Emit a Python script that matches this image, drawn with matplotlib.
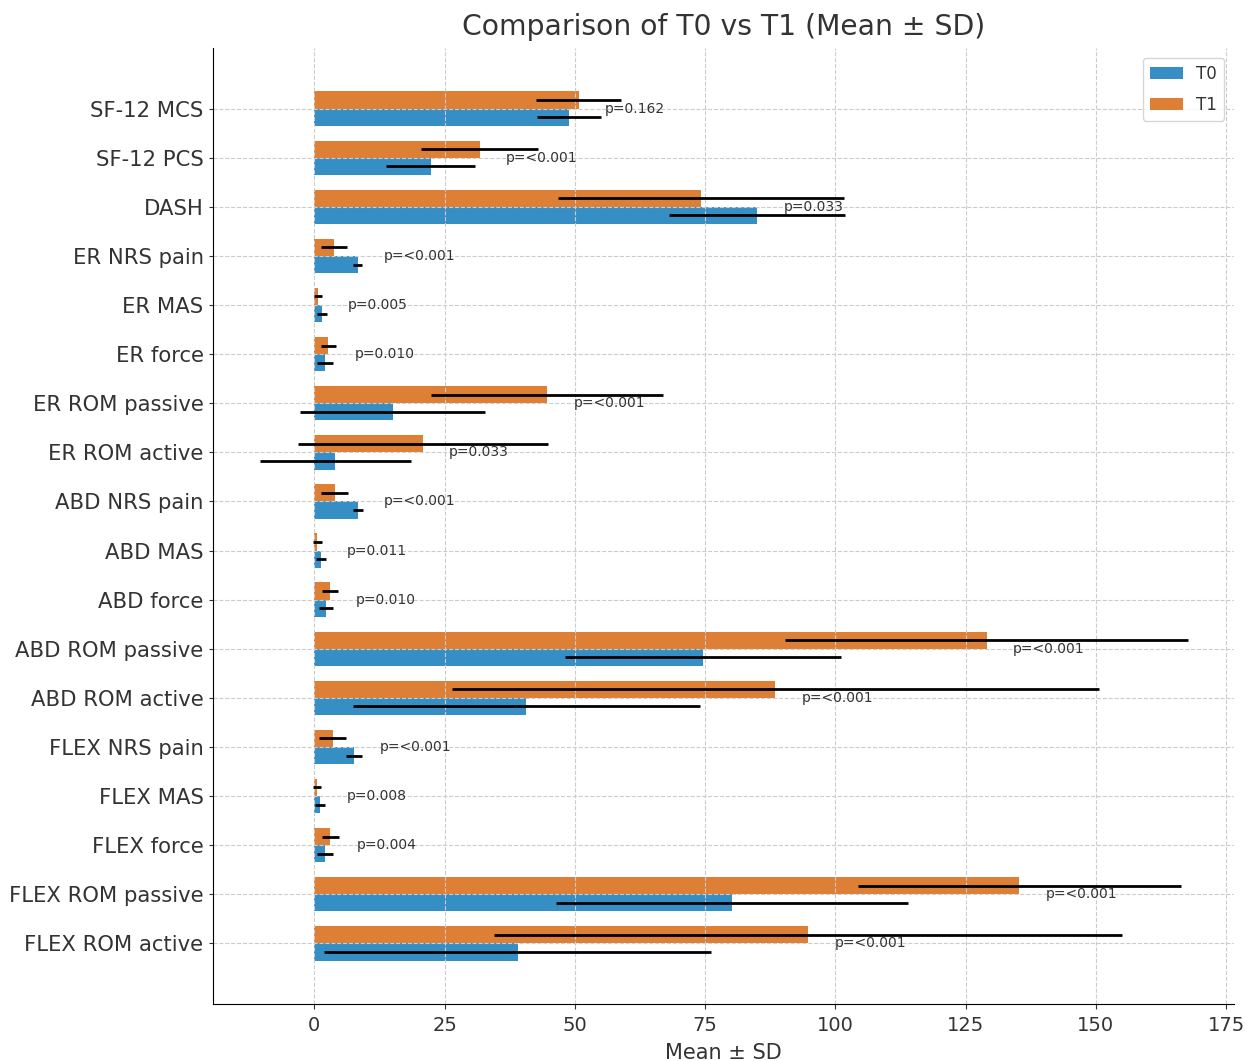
import numpy as np
import matplotlib
matplotlib.use("Agg")
import matplotlib.pyplot as plt

labels = ['SF-12 MCS', 'SF-12 PCS', 'DASH', 'ER NRS pain', 'ER MAS', 'ER force',
          'ER ROM passive', 'ER ROM active', 'ABD NRS pain', 'ABD MAS', 'ABD force',
          'ABD ROM passive', 'ABD ROM active', 'FLEX NRS pain', 'FLEX MAS',
          'FLEX force', 'FLEX ROM passive', 'FLEX ROM active']
t0_mean = [48.9, 22.3, 85.0, 8.3, 1.5, 2.1, 15.0, 4.0, 8.3, 1.25, 2.2, 74.6, 40.7, 7.6, 1.15, 2.05, 80.1, 39.0]
t0_sd = [6.1, 8.5, 16.9, 0.8, 1.0, 1.5, 17.7, 14.5, 0.95, 0.95, 1.4, 26.4, 33.3, 1.45, 0.95, 1.45, 33.8, 37.2]
t1_mean = [50.7, 31.7, 74.2, 3.8, 0.7, 2.7, 44.7, 20.8, 3.9, 0.6, 3.0, 129.0, 88.5, 3.5, 0.5, 3.05, 135.3, 94.8]
t1_sd = [8.2, 11.3, 27.5, 2.45, 0.8, 1.5, 22.3, 24.0, 2.6, 0.8, 1.6, 38.6, 62.0, 2.55, 0.77, 1.65, 31.0, 60.3]
p_values = ['0.162', '<0.001', '0.033', '<0.001', '0.005', '0.010', '<0.001', '0.033', '<0.001',
            '0.011', '0.010', '<0.001', '<0.001', '<0.001', '0.008', '0.004', '<0.001', '<0.001']

text_col = '#333333'
plt.rcParams['text.color'] = text_col
plt.rcParams['axes.labelcolor'] = text_col
plt.rcParams['xtick.color'] = text_col
plt.rcParams['ytick.color'] = text_col

y = np.arange(len(labels))
w = 0.35

fig = plt.figure(figsize=(12.47, 10.61), dpi=100)
ax = fig.add_axes([0.171, 0.0537, 0.8186, 0.9011])

ax.barh(y + w / 2, t0_mean, w, xerr=t0_sd, color='#358EC4', label='T0',
        error_kw=dict(ecolor='black', elinewidth=2, capsize=0))
ax.barh(y - w / 2, t1_mean, w, xerr=t1_sd, color='#DE7F36', label='T1',
        error_kw=dict(ecolor='black', elinewidth=2, capsize=0))

for i, p in enumerate(p_values):
    ax.text(max(t0_mean[i], t1_mean[i]) + 5, y[i], f'p={p}', va='center', fontsize=10, color=text_col)

ax.set_yticks(y)
ax.set_yticklabels(labels, fontsize=15.2)
ax.invert_yaxis()
ax.tick_params(axis='y', length=3, pad=4)
ax.tick_params(axis='x', labelsize=14, pad=5)
ax.set_xlabel('Mean ± SD', fontsize=15, labelpad=6)
ax.set_title('Comparison of T0 vs T1 (Mean ± SD)', fontsize=20.3, pad=9)
ax.grid(True, linestyle='--', color='#cccccc', linewidth=0.8)
ax.spines['top'].set_visible(False)
ax.spines['right'].set_visible(False)
ax.legend(loc='upper right', fontsize=12, labelspacing=0.8, borderaxespad=0.6)

fig.savefig('out.png')
